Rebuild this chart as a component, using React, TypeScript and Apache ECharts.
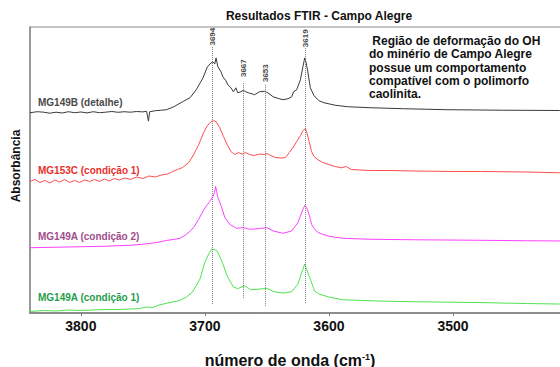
import React, { useEffect, useRef } from "react";
import * as echarts from "echarts";

// Wavenumber (cm-1) and offset absorbance (a.u.)
const mg149bDetalhe: [number, number][] = [
  [3841, 2.01], [3835, 2.02], [3830, 2.015], [3825, 2.005], [3820, 2.015], [3815, 2.007],
  [3810, 2.02], [3805, 2.01], [3800, 2.017], [3795, 2.008], [3790, 2.02], [3785, 2.01],
  [3780, 2.015], [3775, 2.022], [3770, 2.014], [3765, 2.02], [3760, 2.015], [3755, 2.022],
  [3750, 2.018], [3747, 2.025], [3745.5, 1.925], [3744.5, 2.02], [3740, 2.03], [3735, 2.035],
  [3731, 2.04], [3725, 2.07], [3718, 2.12], [3712, 2.16], [3707, 2.24], [3701.5, 2.36],
  [3698, 2.47], [3695, 2.51], [3693.5, 2.52], [3692, 2.5], [3691, 2.56], [3689.5, 2.47],
  [3687, 2.42], [3685.5, 2.37], [3683, 2.33], [3681.5, 2.29], [3679, 2.26], [3677, 2.22],
  [3675, 2.26], [3673.5, 2.21], [3671, 2.22], [3669, 2.235], [3667, 2.22], [3665, 2.21],
  [3662, 2.2], [3660, 2.19], [3656, 2.22], [3652, 2.225], [3650, 2.215], [3645, 2.17],
  [3640, 2.15], [3637, 2.14], [3633, 2.15], [3630, 2.17], [3628.5, 2.22], [3626, 2.24],
  [3623, 2.34], [3621, 2.47], [3619.5, 2.56], [3618.5, 2.52], [3617, 2.42], [3615, 2.26],
  [3612, 2.18], [3608, 2.13], [3604, 2.11], [3595, 2.085], [3585, 2.07], [3567, 2.06],
  [3540, 2.05], [3505, 2.04], [3460, 2.035], [3414, 2.032], [3400, 2.03],
];

const mg153cCond1: [number, number][] = [
  [3841, 1.32], [3837, 1.34], [3833, 1.31], [3829, 1.33], [3825, 1.305], [3821, 1.335],
  [3817, 1.315], [3813, 1.34], [3809, 1.31], [3805, 1.33], [3801, 1.31], [3797, 1.335],
  [3793, 1.32], [3789, 1.34], [3785, 1.32], [3781, 1.345], [3777, 1.325], [3773, 1.35],
  [3769, 1.335], [3765, 1.355], [3760, 1.34], [3755, 1.365], [3750, 1.35], [3745, 1.375],
  [3740, 1.365], [3735, 1.385], [3730, 1.395], [3726, 1.42], [3722, 1.44], [3718, 1.46],
  [3713, 1.51], [3709, 1.59], [3705, 1.69], [3701, 1.81], [3698, 1.88], [3695, 1.92],
  [3693, 1.93], [3691, 1.92], [3688, 1.86], [3685, 1.77], [3682, 1.69], [3679, 1.62],
  [3676, 1.59], [3673, 1.61], [3670, 1.595], [3667, 1.61], [3664, 1.59], [3660, 1.58],
  [3656, 1.595], [3652, 1.59], [3650, 1.6], [3647, 1.58], [3643, 1.56], [3638, 1.555],
  [3635, 1.56], [3632, 1.61], [3629, 1.66], [3626, 1.72], [3623, 1.78], [3621, 1.83],
  [3619, 1.85], [3617.5, 1.8], [3616, 1.72], [3614, 1.62], [3612, 1.57], [3609, 1.54],
  [3605, 1.51], [3600, 1.49], [3595, 1.47], [3590, 1.457], [3586, 1.47], [3582, 1.44],
  [3575, 1.435], [3567, 1.43], [3550, 1.43], [3532, 1.425], [3500, 1.42], [3478, 1.42],
  [3440, 1.415], [3414, 1.407], [3400, 1.405],
];

const mg149aCond2: [number, number][] = [
  [3841, 0.655], [3820, 0.66], [3800, 0.665], [3780, 0.67], [3760, 0.68], [3750, 0.69],
  [3740, 0.705], [3730, 0.73], [3724, 0.74], [3720, 0.75], [3716, 0.78], [3712, 0.82],
  [3709, 0.86], [3705, 0.94], [3701.5, 1.023], [3698.5, 1.08], [3696, 1.12], [3693.3, 1.173],
  [3692.2, 1.21], [3691.4, 1.27], [3690.5, 1.22], [3689.8, 1.17], [3686.5, 1.06], [3684, 0.96],
  [3680, 0.89], [3674.5, 0.85], [3669, 0.857], [3664, 0.84], [3656, 0.847], [3650, 0.857],
  [3645, 0.823], [3637, 0.8], [3630, 0.823], [3625, 0.907], [3621, 1.04], [3619.4, 1.08],
  [3618, 1.06], [3616, 0.99], [3614, 0.89], [3612, 0.85], [3609, 0.81], [3605, 0.79],
  [3600, 0.77], [3589, 0.75], [3567, 0.74], [3532, 0.735], [3480, 0.73], [3440, 0.725],
  [3414, 0.723], [3400, 0.72],
];

const mg149aCond1: [number, number][] = [
  [3841, 0.015], [3830, 0.025], [3820, 0.02], [3810, 0.03], [3800, 0.025], [3785, 0.033],
  [3770, 0.035], [3760, 0.04], [3753, 0.045], [3747, 0.06], [3742, 0.055], [3737, 0.08],
  [3730, 0.1], [3721, 0.123], [3715, 0.16], [3710, 0.21], [3704, 0.34], [3700, 0.51],
  [3697, 0.59], [3694.5, 0.64], [3692, 0.635], [3690, 0.62], [3686, 0.51], [3682, 0.37],
  [3677, 0.26], [3673.5, 0.245], [3668, 0.273], [3663, 0.233], [3656, 0.24], [3650, 0.247],
  [3644, 0.213], [3637, 0.2], [3630, 0.213], [3625, 0.29], [3621, 0.44], [3619.5, 0.49],
  [3618, 0.44], [3615, 0.34], [3611.5, 0.22], [3608, 0.19], [3600, 0.16], [3589, 0.133],
  [3560, 0.12], [3532, 0.113], [3480, 0.105], [3440, 0.095], [3414, 0.09], [3400, 0.09],
];

const seriesNames = [
  "MG149B (detalhe)",
  "MG153C (condição 1)",
  "MG149A (condição 2)",
  "MG149A (condição 1)",
];

// Peak marker lines: axis position, label text, line top / bottom, label centre (a.u.)
const peakPositions = [3694, 3669, 3651, 3619];
const peakLabels = ["3694", "3667", "3653", "3619"];
const peakLineTop = [2.67, 2.31, 2.29, 2.66];
const peakLineBottom = [0.09, 0.15, 0.063, 0.09];
const peakLabelY = [2.773, 2.457, 2.407, 2.757];

const xTicks = [3800, 3700, 3600, 3500];

const FONT = "'Liberation Sans', Arial, Helvetica, sans-serif";

export default function App() {
  const ref = useRef<HTMLDivElement>(null);

  useEffect(() => {
    if (!ref.current) return;
    const chart = echarts.init(ref.current, null, { renderer: "svg" });

    const colors = ["#3a3a3a", "#ff4d4d", "#ff40ff", "#4fe24f"];
    const labelColors = ["#4a4a4a", "#e8302c", "#a14d8c", "#1f9e4c"];
    const labelY = [102, 170, 236, 297];
    const datasets = [mg149bDetalhe, mg153cCond1, mg149aCond2, mg149aCond1];

    const lineSeries = datasets.map((d, i) => ({
      name: seriesNames[i],
      type: "line",
      data: d,
      symbol: "none",
      smooth: false,
      lineStyle: { width: 1, color: colors[i] },
      z: 3,
    }));

    chart.setOption({
      animation: false,
      backgroundColor: "#ffffff",
      textStyle: { fontFamily: FONT },
      grid: {
        left: 30,
        top: 27,
        width: 547,
        height: 286,
        show: true,
        borderColor: "#8a8a8a",
        borderWidth: 1,
        containLabel: false,
        outerBoundsMode: "none",
      },
      xAxis: {
        type: "value",
        inverse: true,
        min: 3400,
        max: 3841,
        interval: 100,
        axisLine: { show: true, lineStyle: { color: "#7a7a7a", width: 1.5 } },
        axisTick: { show: true, length: 3, inside: false, lineStyle: { color: "#7a7a7a" } },
        axisLabel: {
          show: true,
          margin: 6,
          fontSize: 14,
          fontWeight: "bold",
          color: "#111",
          fontFamily: FONT,
          showMinLabel: false,
          showMaxLabel: false,
          formatter: (v: number) => (xTicks.includes(v) ? String(v) : ""),
        },
        splitLine: { show: false },
      },
      yAxis: {
        type: "value",
        min: 0,
        max: 2.87,
        axisLine: { show: true, lineStyle: { color: "#8a8a8a", width: 1.5 } },
        axisTick: { show: false },
        axisLabel: { show: false },
        splitLine: { show: false },
      },
      series: [
        ...lineSeries,
        {
          type: "line",
          data: [],
          silent: true,
          markLine: {
            silent: true,
            symbol: ["none", "none"],
            label: { show: false },
            lineStyle: { type: "dotted", color: "#777", width: 1 },
            data: peakPositions.map((p, i) => [
              { coord: [p, peakLineTop[i]] },
              { coord: [p, peakLineBottom[i]] },
            ]),
          },
        },
        {
          type: "scatter",
          data: peakPositions.map((p, i) => [p, peakLabelY[i]]),
          symbolSize: 1,
          itemStyle: { color: "rgba(0,0,0,0)" },
          silent: true,
          z: 5,
          label: {
            show: true,
            position: "inside",
            rotate: 90,
            fontSize: 8,
            fontWeight: "bold",
            color: "#111",
            fontFamily: FONT,
            formatter: (p: any) => peakLabels[p.dataIndex],
          },
        },
      ],
      graphic: [
        {
          type: "text",
          x: 319,
          y: 16,
          style: {
            text: "Resultados FTIR - Campo Alegre",
            font: `bold 12px ${FONT}`,
            fill: "#111",
            textAlign: "center",
            textVerticalAlign: "middle",
            align: "center",
            verticalAlign: "middle",
          },
        },
        {
          type: "text",
          x: 369,
          y: 34.5,
          style: {
            text:
              " Região de deformação do OH\ndo minério de Campo Alegre\npossue um comportamento\ncompatível com o polimorfo\ncaolinita.",
            font: `bold 12px ${FONT}`,
            lineHeight: 13.2,
            fill: "#111",
            textAlign: "left",
            textVerticalAlign: "top",
            align: "left",
            verticalAlign: "top",
          },
        },
        ...seriesNames.map((n, i) => ({
          type: "text",
          x: 38,
          y: labelY[i],
          z: 10,
          style: {
            text: n,
            font: `bold 10px ${FONT}`,
            fill: labelColors[i],
            textAlign: "left",
            textVerticalAlign: "middle",
            align: "left",
            verticalAlign: "middle",
          },
        })),
        {
          type: "text",
          x: 16,
          y: 166,
          rotation: Math.PI / 2,
          style: {
            text: "Absorbância",
            font: `bold 12px ${FONT}`,
            fill: "#111",
            textAlign: "center",
            textVerticalAlign: "middle",
            align: "center",
            verticalAlign: "middle",
          },
        },
        {
          type: "text",
          x: 290,
          y: 360,
          style: {
            text: "{a|número de onda (cm}{s|-1}{a|)}",
            fill: "#111",
            textAlign: "center",
            textVerticalAlign: "middle",
            align: "center",
            verticalAlign: "middle",
            rich: {
              a: { font: `bold 16px ${FONT}`, fill: "#111", lineHeight: 18 },
              s: { font: `bold 9px ${FONT}`, fill: "#111", lineHeight: 18, verticalAlign: "top", padding: [1, 0, 0, 0] },
            },
          },
        },
      ],
    });

    return () => chart.dispose();
  }, []);

  return (
    <div
      ref={ref}
      style={{ position: "fixed", left: 0, top: 0, width: 560, height: 367, background: "#fff" }}
    />
  );
}
